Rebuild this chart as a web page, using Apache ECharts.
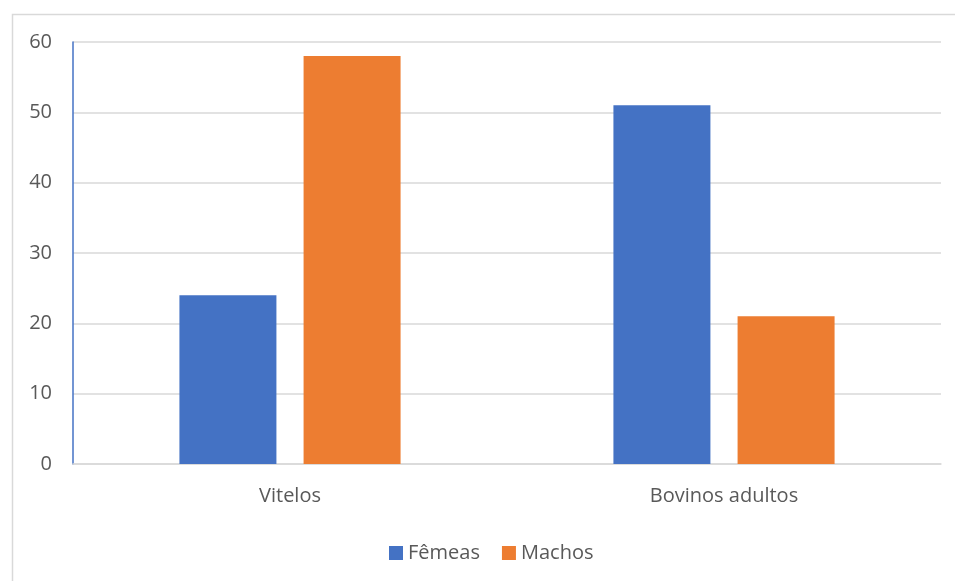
<!DOCTYPE html>
<html>
<head>
<meta charset="utf-8">
<script src="https://cdn.jsdelivr.net/npm/echarts@6/dist/echarts.min.js"></script>
<style>
  html, body { margin: 0; padding: 0; background: #fff; }
  #chart { width: 955px; height: 581px; }
</style>
</head>
<body>
<div id="chart"></div>
<script>
var categories = ['Vitelos', 'Bovinos adultos'];
var femeas = [24, 51];
var machos = [58, 21];

var chart = echarts.init(document.getElementById('chart'));

var option = {
    animation: false,
    textStyle: { fontFamily: 'Open Sans', color: '#595959' },
    graphic: [
        {
            // outer chart border
            type: 'rect',
            left: 10,
            top: 12,
            shape: { width: 1000, height: 620 },
            style: { fill: 'none', stroke: '#d9d9d9', lineWidth: 1.5 },
            silent: true
        }
    ],
    grid: { left: 73, right: 14, top: 42, bottom: 117 },
    legend: {
        top: 538,
        left: 384,
        itemWidth: 14,
        itemHeight: 14,
        itemGap: 22,
        icon: 'rect',
        textStyle: { fontSize: 20, color: '#595959', fontFamily: 'Open Sans' },
        data: ['Fêmeas', 'Machos']
    },
    xAxis: {
        type: 'category',
        data: categories,
        axisLine: { lineStyle: { color: '#d9d9d9', width: 1.5 } },
        axisTick: { show: false },
        axisLabel: { fontSize: 20, color: '#595959', margin: 22 }
    },
    yAxis: {
        type: 'value',
        min: 0,
        max: 60,
        interval: 10,
        axisLine: { show: true, lineStyle: { color: '#4472c4', width: 1.5 } },
        axisTick: { show: false },
        axisLabel: { fontSize: 20, color: '#595959', margin: 21 },
        splitLine: { lineStyle: { color: '#d9d9d9', width: 1.5 } }
    },
    series: [
        {
            name: 'Fêmeas',
            type: 'bar',
            data: femeas,
            color: '#4472c4',
            barWidth: 97,
            barGap: '28%'
        },
        {
            name: 'Machos',
            type: 'bar',
            data: machos,
            color: '#ed7d31',
            barWidth: 97,
            barGap: '28%'
        }
    ]
};

chart.setOption(option);
</script>
</body>
</html>
